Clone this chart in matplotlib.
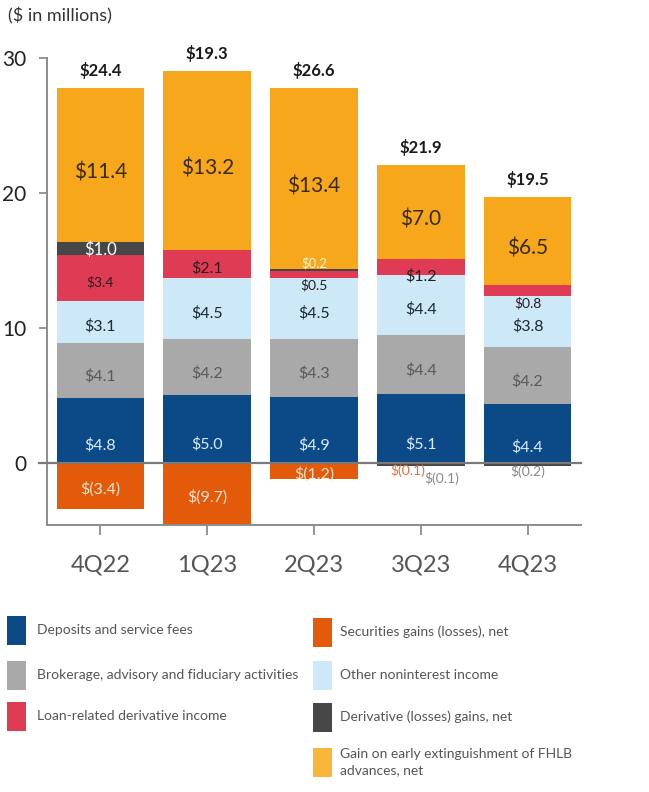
import matplotlib
matplotlib.use("Agg")
import matplotlib.pyplot as plt
from matplotlib.patches import Rectangle
import numpy as np

plt.rcParams['font.family'] = ['Lato', 'DejaVu Sans']

quarters = ['4Q22', '1Q23', '2Q23', '3Q23', '4Q23']
deposits = [4.8, 5.0, 4.9, 5.1, 4.4]
brokerage = [4.1, 4.2, 4.3, 4.4, 4.2]
other_income = [3.1, 4.5, 4.5, 4.4, 3.8]
loan_deriv = [3.4, 2.1, 0.5, 1.2, 0.8]
derivative = [1.0, 0.0, 0.2, -0.1, -0.2]
fhlb_gain = [11.4, 13.2, 13.4, 7.0, 6.5]
securities = [-3.4, -9.7, -1.2, -0.1, 0.0]
totals = [24.4, 19.3, 26.6, 21.9, 19.5]

C_DEP = '#0b4a86'
C_BRK = '#a9a9a9'
C_OTH = '#cde9f8'
C_LOAN = '#df3b55'
C_DER = '#474747'
C_FHLB = '#f6a71c'
C_SEC = '#e35a0a'

YMIN, YMAX = -4.6, 30


def money(v):
    if v < 0:
        return '$(%.1f)' % abs(v)
    return '$%.1f' % v


fig = plt.figure(figsize=(6.49, 7.92), dpi=100)
ax = fig.add_axes([47 / 649, 1 - 525 / 792, (581 - 47) / 649, (525 - 58) / 792])

x = np.arange(len(quarters))
w = 0.82

# positive stack, bottom to top
pos_series = [
    ('dep', deposits, C_DEP),
    ('brk', brokerage, C_BRK),
    ('oth', other_income, C_OTH),
    ('loan', loan_deriv, C_LOAN),
    ('der', [max(v, 0) for v in derivative], C_DER),
    ('fhlb', fhlb_gain, C_FHLB),
]
bottom = np.zeros(len(quarters))
for key, vals, col in pos_series:
    vals = np.array(vals)
    ax.bar(x, vals, w, bottom=bottom, color=col, linewidth=0, zorder=2)
    for i, v in enumerate(vals):
        if v <= 0:
            continue
        b = bottom[i]
        c = b + v / 2
        if key == 'dep':
            ax.text(x[i], b + 0.27 * v, money(v), ha='center', va='center',
                    color='#dcecff', fontsize=11.5, zorder=4)
        elif key == 'brk':
            ax.text(x[i], b + 0.4 * v, money(v), ha='center', va='center',
                    color='#5a5a5a', fontsize=11.5, zorder=4)
        elif key == 'oth':
            ax.text(x[i], c - 0.35, money(v), ha='center', va='center',
                    color='#1c2a38', fontsize=11.5, zorder=4)
        elif key == 'loan':
            if v >= 1.5:
                ty, fs = c - 0.3, 10 if v > 3 else 11.5
            elif v >= 1:
                ty, fs = b - 0.1, 11.5
            else:
                ty, fs = b - 0.55, 10
            ax.text(x[i], ty, money(v), ha='center', va='center',
                    color='#2a1c1c', fontsize=fs, zorder=4)
        elif key == 'der':
            if v >= 0.5:
                ax.text(x[i], c - 0.1, money(v), ha='center', va='center',
                        color='white', fontsize=12, zorder=4)
            else:
                ax.text(x[i], b + v + 0.4, money(v), ha='center', va='center',
                        color='#fff6dc', fontsize=9.5, zorder=4)
        elif key == 'fhlb':
            ax.text(x[i], c - 0.6, money(v), ha='center', va='center',
                    color='#3a2a10', fontsize=15, zorder=4)
    bottom += vals

tops = bottom.copy()

# negative stack: securities first, then derivative losses
neg_bottom = np.zeros(len(quarters))
sec = np.array(securities)
ax.bar(x, sec, w, bottom=neg_bottom, color=C_SEC, linewidth=0, zorder=2)
for i, v in enumerate(sec):
    if v >= 0:
        continue
    if abs(v) >= 0.5:
        vis = max(v, YMIN)
        ax.text(x[i], vis / 2 - 0.25, money(v), ha='center', va='center',
                color='#fde4d2', fontsize=11.5, zorder=4)
    else:
        ax.text(x[i] - 0.12, -0.55, money(v), ha='center', va='center',
                color='#e8703a', fontsize=10, zorder=4)
neg_bottom += sec

der_neg = np.array([min(v, 0) for v in derivative])
ax.bar(x, der_neg, w, bottom=neg_bottom, color=C_DER, linewidth=0, zorder=2)
for i, v in enumerate(der_neg):
    if v >= 0:
        continue
    if sec[i] < 0:
        ax.text(x[i] + 0.2, neg_bottom[i] + v - 0.95, money(v), ha='center',
                va='center', color='#8a8a8a', fontsize=10, zorder=4)
    else:
        ax.text(x[i], v - 0.45, money(v), ha='center', va='center',
                color='#8a8a8a', fontsize=10, zorder=4)

# totals above each bar
for i, t in enumerate(totals):
    ax.text(x[i], tops[i] + 1.3, money(t), ha='center', va='center',
            color='#1a1a1a', fontsize=12, fontweight='bold', zorder=4)

ax.axhline(0, xmin=-0.015, color='#7a7a7a', linewidth=1.6, zorder=3, clip_on=False)

ax.set_xlim(-0.5, len(quarters) - 0.5)
ax.set_ylim(YMIN, YMAX)
ax.set_yticks([0, 10, 20, 30])
ax.set_xticks(x)
ax.set_xticklabels(quarters)
for s in ['top', 'right']:
    ax.spines[s].set_visible(False)
for s in ['left', 'bottom']:
    ax.spines[s].set_color('#8c8c8c')
    ax.spines[s].set_linewidth(1.4)
ax.spines['left'].set_bounds(YMIN, YMAX)
ax.tick_params(axis='y', colors='#8c8c8c', labelcolor='#222222', labelsize=15,
               length=6, width=1.3, pad=9)
ax.tick_params(axis='x', colors='#8c8c8c', labelcolor='#555555', labelsize=17,
               length=7, width=1.3, pad=14)

fig.text(8 / 649, 1 - 16 / 792, '($ in millions)', ha='left', va='center',
         fontsize=13, color='#333333')

# legend drawn as figure patches + text
legend_left = [
    ('Deposits and service fees', C_DEP, 630),
    ('Brokerage, advisory and fiduciary activities', C_BRK, 675),
    ('Loan-related derivative income', C_LOAN, 716),
]
legend_right = [
    ('Securities gains (losses), net', C_SEC, 632),
    ('Other noninterest income', C_OTH, 675),
    ('Derivative (losses) gains, net', C_DER, 717),
    ('Gain on early extinguishment of FHLB\nadvances, net', '#f8b73a', 762),
]
for items, px, tx in [(legend_left, 7, 37), (legend_right, 313, 340)]:
    for label, col, yc in items:
        fig.add_artist(Rectangle((px / 649, 1 - (yc + 14.5) / 792), 19 / 649, 29 / 792,
                                 transform=fig.transFigure, color=col, linewidth=0))
        fig.text(tx / 649, 1 - yc / 792, label, ha='left', va='center',
                 fontsize=10, color='#555555', linespacing=1.5)

fig.savefig('out.png', dpi=100)
